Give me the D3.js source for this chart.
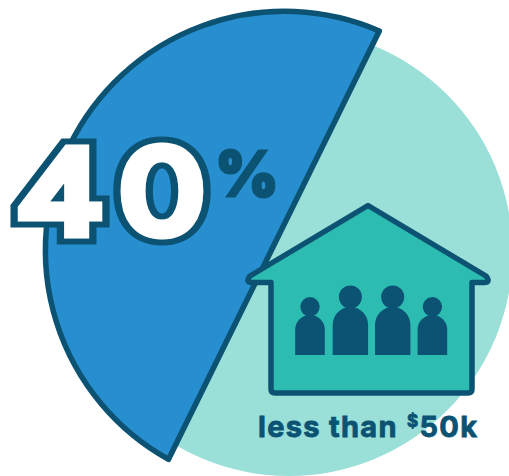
<!DOCTYPE html>
<html>
<head>
<meta charset="utf-8">
<style>
  html, body { margin: 0; padding: 0; background: #fff; }
  svg { display: block; }
  text { font-family: Inter, "Open Sans", sans-serif; }
</style>
<script src="https://cdn.jsdelivr.net/npm/d3@7"></script>
</head>
<body>
<svg id="chart" width="509" height="476"></svg>
<script>
// Share of households under the income threshold, and everyone else.
const categories = ["less than $50k", "other households"];
const shares = [40, 60];

// Household icon: one entry per person, small or large figure.
const household = ["small", "large", "large", "small"];

const colors = { ink: "#0b5273", wedge: "#278ecf", disc: "#9ae0d8", house: "#2dbcb1" };

const svg = d3.select("#chart");

// The pale disc stands for all households.
const disc = { x: 289, y: 252.5, r: 223.5 };
svg.append("circle")
  .attr("cx", disc.x).attr("cy", disc.y).attr("r", disc.r)
  .attr("fill", colors.disc);

// The highlighted share is a stylised segment: 40 spans a little under half a turn.
const sweep = d3.scaleLinear().domain([0, 100]).range([0, 436 * Math.PI / 180]);
const wedge = { x: 284.4, y: 250.3, r: 239 };
const startAngle = (23.4 - 90) * Math.PI / 180;
const segment = d3.path();
segment.arc(wedge.x, wedge.y, wedge.r, startAngle, startAngle - sweep(shares[0]), true);
segment.closePath();
svg.append("path")
  .attr("d", segment.toString())
  .attr("fill", colors.wedge)
  .attr("stroke", colors.ink)
  .attr("stroke-width", 5.5)
  .attr("stroke-linejoin", "round");

// House outline.
const house = d3.path();
house.moveTo(368, 205.5);
house.lineTo(486, 276);
house.quadraticCurveTo(491, 282.5, 484, 282.5);
house.lineTo(472, 282.5);
house.lineTo(472, 389);
house.quadraticCurveTo(472, 393, 468, 393);
house.lineTo(275, 393);
house.quadraticCurveTo(271, 393, 271, 389);
house.lineTo(271, 282.5);
house.lineTo(252, 282.5);
house.quadraticCurveTo(245, 282.5, 250, 276);
house.closePath();
svg.append("path")
  .attr("d", house.toString())
  .attr("fill", colors.house)
  .attr("stroke", colors.ink)
  .attr("stroke-width", 5.5)
  .attr("stroke-linejoin", "round");

// Figures standing in the house.
const figureSize = {
  small: { head: 9.7, half: 14.8, top: 315 },
  large: { head: 11.5, half: 17.7, top: 307 }
};
const figureX = [310, 350.4, 392.7, 432.4];
const floorY = 355;
const people = svg.append("g").attr("fill", colors.ink);
household.forEach((kind, i) => {
  const s = figureSize[kind], cx = figureX[i];
  people.append("circle")
    .attr("cx", cx).attr("cy", s.top - s.head + 1.5).attr("r", s.head);
  const body = d3.path();
  body.moveTo(cx - s.half, floorY);
  body.lineTo(cx - s.half, s.top + s.half);
  body.arc(cx, s.top + s.half, s.half, Math.PI, 0);
  body.lineTo(cx + s.half, floorY);
  body.closePath();
  people.append("path").attr("d", body.toString());
});

// Big percentage: outlined, horizontally widened digits, then a small percent sign.
const digits = String(shares[0]).split("");
const digitX = [60, 162];
const digitY = 232;
const widen = 1.22;
digits.forEach((d, i) => {
  const g = svg.append("g")
    .attr("transform", `translate(${digitX[i]},${digitY}) scale(${widen},1)`);
  g.append("text")
    .attr("text-anchor", "middle")
    .attr("font-size", 112).attr("font-weight", 300)
    .attr("fill", "#fff").attr("stroke", colors.ink)
    .attr("stroke-width", 25).attr("stroke-linejoin", "miter").attr("stroke-miterlimit", 2.2)
    .text(d);
  g.append("text")
    .attr("text-anchor", "middle")
    .attr("font-size", 112).attr("font-weight", 300)
    .attr("fill", "#fff").attr("stroke", "#fff")
    .attr("stroke-width", 13).attr("stroke-linejoin", "miter").attr("stroke-miterlimit", 2.2)
    .text(d);
});
svg.append("text")
  .attr("x", 247).attr("y", 196)
  .attr("text-anchor", "middle")
  .attr("font-size", 62).attr("font-weight", 800)
  .attr("fill", colors.ink)
  .attr("stroke", colors.ink).attr("stroke-width", 3)
  .text("%");

// Caption under the house, with a raised dollar sign.
const caption = svg.append("text")
  .attr("x", 258).attr("y", 437)
  .attr("font-size", 29).attr("font-weight", 700)
  .attr("letter-spacing", 1.3)
  .attr("fill", colors.ink)
  .attr("stroke", colors.ink).attr("stroke-width", 0.8);
caption.append("tspan").text("less than ");
caption.append("tspan").attr("font-size", 17).attr("dy", -10).attr("dx", 1).text("$");
caption.append("tspan").attr("dy", 10).text("50k");
</script>
</body>
</html>
